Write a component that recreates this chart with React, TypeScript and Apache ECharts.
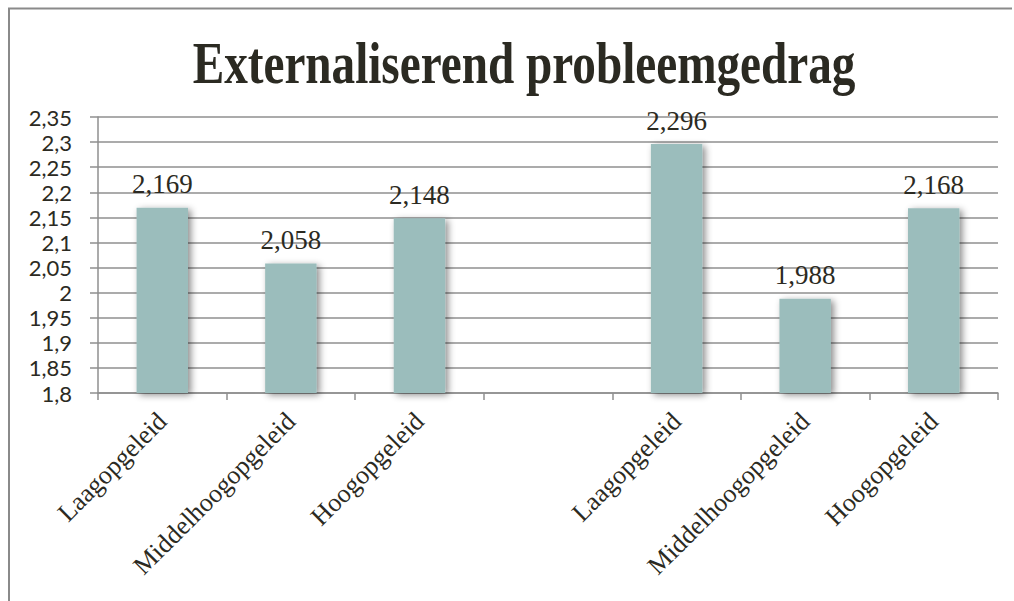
import React, { useEffect, useRef } from "react";
import * as echarts from "echarts";

const title = "Externaliserend probleemgedrag";
const categories = [
  "Laagopgeleid",
  "Middelhoogopgeleid",
  "Hoogopgeleid",
  "",
  "Laagopgeleid",
  "Middelhoogopgeleid",
  "Hoogopgeleid",
];
const values: (number | null)[] = [2.169, 2.058, 2.148, null, 2.296, 1.988, 2.168];
const yMin = 1.8;
const yMax = 2.35;
const yStep = 0.05;

const textColor = "#2b2a22";
const gridColor = "#8f8f8f";

export default function App() {
  const ref = useRef<HTMLDivElement>(null);
  useEffect(() => {
    if (!ref.current) return;
    document.documentElement.style.overflow = "hidden";
    document.body.style.overflow = "hidden";
    const chart = echarts.init(ref.current, undefined, { renderer: "svg" });
    chart.setOption({
      animation: false,
      backgroundColor: "#ffffff",
      graphic: [
        {
          type: "line",
          shape: { x1: 9, y1: 8, x2: 9, y2: 601 },
          style: { stroke: "#8a8a8a", lineWidth: 2 },
          silent: true,
        },
        {
          type: "line",
          shape: { x1: 8, y1: 8.5, x2: 1012, y2: 8.5 },
          style: { stroke: "#8a8a8a", lineWidth: 2 },
          silent: true,
        },
        {
          type: "text",
          x: 524,
          y: 63,
          scaleX: 0.8,
          style: {
            text: title,
            fontFamily: "Liberation Serif",
            fontWeight: "bold",
            fontSize: 59,
            fill: textColor,
            textAlign: "center",
            textVerticalAlign: "middle",
          },
          silent: true,
        },
      ],
      grid: { left: 98, top: 117, width: 900, height: 276, containLabel: false },
      xAxis: {
        type: "category",
        data: categories,
        boundaryGap: true,
        axisLine: { show: true, lineStyle: { color: gridColor, width: 1.5 } },
        axisTick: { show: true, length: 7, lineStyle: { color: gridColor, width: 1.5 } },
        axisLabel: {
          rotate: 45,
          interval: 0,
          margin: 24,
          fontFamily: "Liberation Serif",
          fontSize: 26,
          color: textColor,
        },
      },
      yAxis: {
        type: "value",
        min: yMin,
        max: yMax,
        interval: yStep,
        axisLine: { show: true, lineStyle: { color: gridColor, width: 1.5 } },
        axisTick: { show: true, length: 8, lineStyle: { color: gridColor, width: 1.5 } },
        splitLine: { show: true, lineStyle: { color: gridColor, width: 1.5 } },
        axisLabel: {
          margin: 26,
          fontFamily: "Lato",
          fontSize: 22,
          lineHeight: 24,
          color: textColor,
          formatter: (v: number) => String(Number(v.toFixed(2))).replace(".", ","),
        },
      },
      series: [
        {
          type: "bar",
          data: values.map((v) => (v === null ? "-" : v)),
          barWidth: "40%",
          itemStyle: {
            color: "#9bbdbc",
            shadowBlur: 7,
            shadowOffsetX: 3,
            shadowOffsetY: 2,
            shadowColor: "rgba(0,0,0,0.45)",
          },
          label: {
            show: true,
            position: "top",
            distance: 10,
            fontFamily: "Liberation Serif",
            fontSize: 27,
            color: textColor,
            formatter: (p: any) => String(p.value).replace(".", ","),
          },
        },
      ],
    });
    return () => chart.dispose();
  }, []);
  return (
    <div
      ref={ref}
      style={{ position: "absolute", left: 0, top: 0, width: 1014, height: 601 }}
    />
  );
}
